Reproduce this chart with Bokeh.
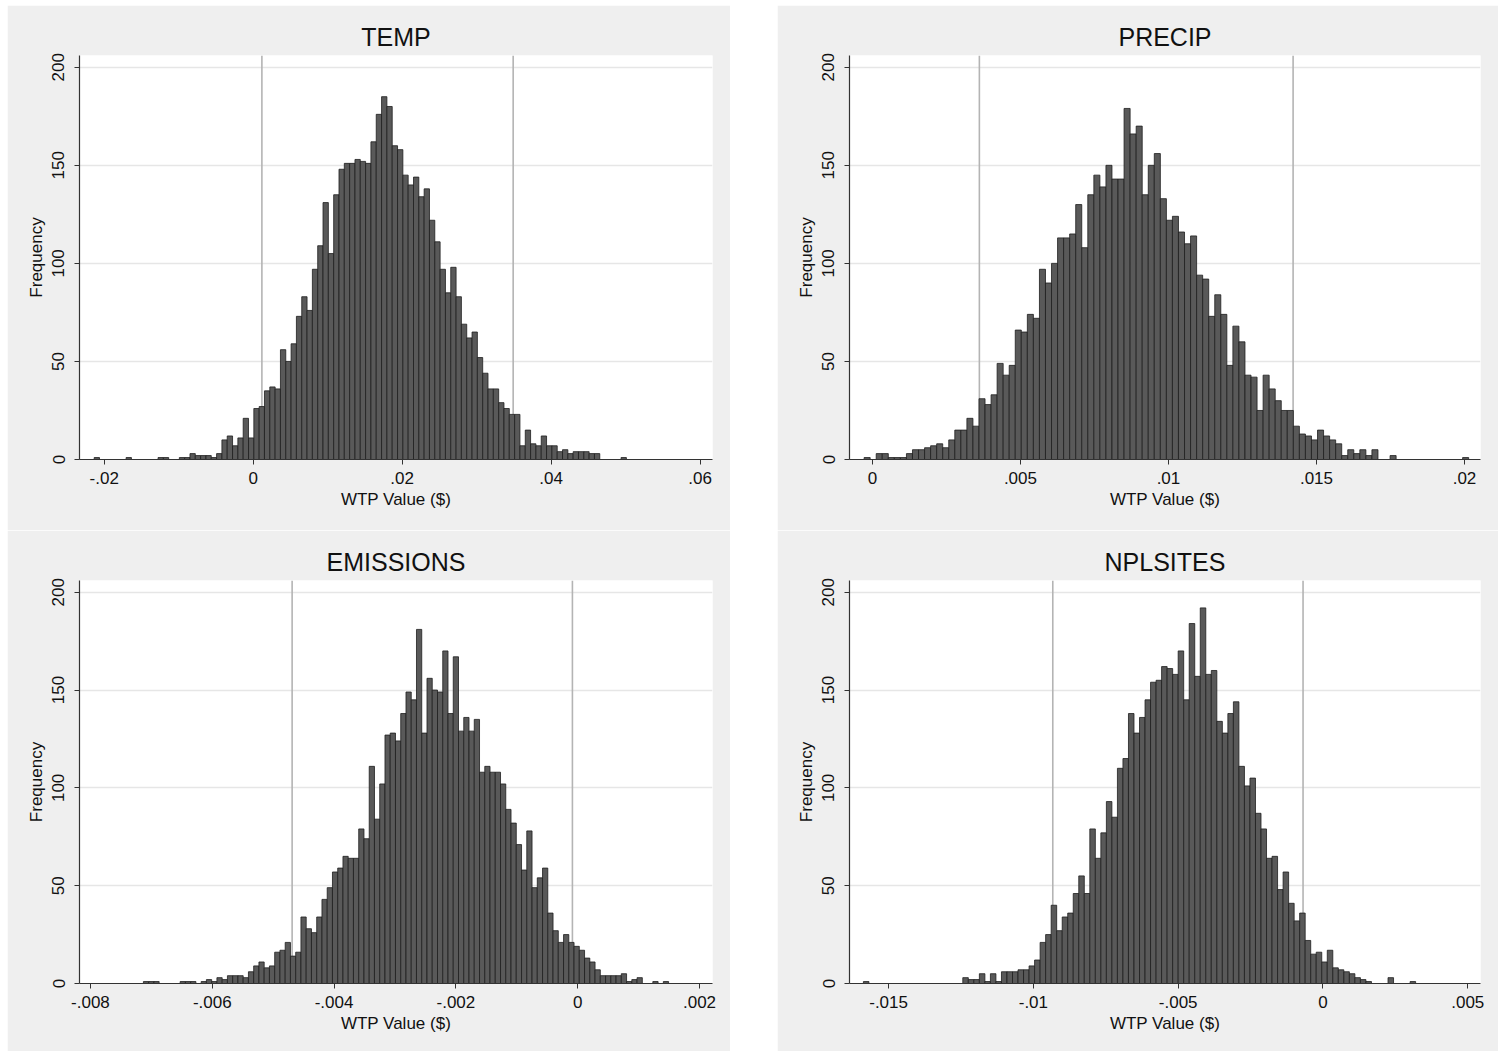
from bokeh.plotting import figure
from bokeh.layouts import column, row, Spacer
from bokeh.models import Range1d, FixedTicker, Span, ColumnDataSource
from bokeh.embed import file_html
from bokeh.resources import INLINE

FONT = "Liberation Sans"

# ---------------- data ----------------
titles = ["TEMP", "PRECIP", "EMISSIONS", "NPLSITES"]

temp_bin_start = -0.02135
temp_bin_width = 0.0007145
temp_counts = [1, 0, 0, 0, 0, 0, 1, 0, 0, 0, 0, 0, 1, 1, 0, 0, 1, 1, 3, 2,
               2, 2, 1, 3, 10, 12, 7, 11, 21, 11, 26, 27, 35, 37, 36, 56, 50, 59, 73, 83,
               76, 97, 109, 131, 105, 135, 148, 151, 151, 153, 152, 151, 162, 176, 185, 180, 160, 158, 145, 140,
               144, 134, 138, 122, 111, 97, 85, 98, 83, 69, 62, 65, 52, 44, 36, 36, 29, 26, 23, 23,
               7, 15, 8, 7, 12, 7, 7, 4, 5, 3, 4, 4, 4, 3, 3, 0, 0, 0, 0, 1]
temp_ticks = [-0.02, 0, 0.02, 0.04, 0.06]
temp_tick_labels = ["-.02", "0", ".02", ".04", ".06"]
temp_lines = [0.001166, 0.0349]

precip_bin_start = -0.00028
precip_bin_width = 0.0002042
precip_counts = [1, 0, 3, 3, 1, 1, 1, 3, 5, 5, 6, 7, 8, 6, 10, 15, 15, 21, 17, 31,
                 28, 33, 49, 43, 48, 66, 65, 74, 72, 97, 90, 100, 113, 113, 115, 130, 108, 135, 145, 139,
                 150, 143, 143, 179, 166, 170, 135, 150, 156, 133, 122, 124, 116, 110, 114, 94, 92, 73, 84, 74,
                 48, 68, 60, 43, 42, 25, 43, 36, 30, 25, 25, 17, 13, 12, 10, 15, 12, 10, 8, 2,
                 5, 3, 5, 2, 5, 0, 0, 2, 0, 0, 0, 0, 0, 0, 0, 0, 0, 0, 0, 1]
precip_ticks = [0, 0.005, 0.01, 0.015, 0.02]
precip_tick_labels = ["0", ".005", ".01", ".015", ".02"]
precip_lines = [0.003613, 0.01421]

emis_bin_start = -0.007131
emis_bin_width = 0.00008623
emis_counts = [1, 1, 1, 0, 0, 0, 0, 1, 1, 1, 0, 1, 2, 1, 3, 2, 4, 4, 4, 3,
               6, 9, 11, 8, 9, 16, 17, 21, 14, 16, 34, 28, 26, 34, 43, 49, 57, 59, 65, 64,
               64, 79, 74, 111, 84, 102, 127, 128, 124, 138, 149, 145, 181, 128, 156, 150, 149, 170, 138, 167,
               129, 136, 129, 135, 108, 111, 108, 108, 102, 89, 82, 71, 58, 78, 49, 54, 59, 36, 27, 21,
               25, 21, 19, 17, 13, 11, 7, 4, 4, 4, 4, 5, 1, 2, 3, 0, 0, 1, 0, 1]
emis_ticks = [-0.008, -0.006, -0.004, -0.002, 0, 0.002]
emis_tick_labels = ["-.008", "-.006", "-.004", "-.002", "0", ".002"]
emis_lines = [-0.004689, -0.0000869]

npl_bin_start = -0.01587
npl_bin_width = 0.0001907
npl_counts = [1, 0, 0, 0, 0, 0, 0, 0, 0, 0, 0, 0, 0, 0, 0, 0, 0, 0, 3, 2,
              2, 5, 1, 5, 1, 6, 6, 6, 7, 7, 9, 12, 21, 25, 40, 27, 34, 36, 46, 55,
              46, 79, 64, 77, 93, 85, 110, 115, 138, 128, 136, 145, 154, 155, 162, 161, 158, 170, 145, 184,
              157, 192, 158, 160, 134, 128, 138, 144, 111, 101, 105, 87, 79, 64, 65, 48, 57, 41, 32, 36,
              22, 15, 16, 11, 17, 8, 7, 6, 5, 3, 2, 1, 0, 0, 0, 3, 0, 0, 0, 1]
npl_ticks = [-0.015, -0.01, -0.005, 0, 0.005]
npl_tick_labels = ["-.015", "-.01", "-.005", "0", ".005"]
npl_lines = [-0.00933, -0.000688]

y_ticks = [0, 50, 100, 150, 200]


def make_panel(title, start, width, counts, ticks, tick_labels, lines, xr, W, H, bottom):
    left, right, top = [], [], []
    for i, c in enumerate(counts):
        if c > 0:
            left.append(start + i * width)
            right.append(start + (i + 1) * width)
            top.append(c)
    src = ColumnDataSource(dict(left=left, right=right, top=top, bottom=[0] * len(top)))
    p = figure(width=W, height=H, output_backend="svg", toolbar_location=None,
               x_range=Range1d(*xr), y_range=Range1d(0, 206),
               min_border_left=72, min_border_right=18,
               min_border_top=50, min_border_bottom=bottom)
    p.title.text = title
    p.title.align = "center"
    p.title.text_font = FONT
    p.title.text_font_size = "25px"
    p.title.text_font_style = "normal"
    p.title.text_color = "#111111"
    p.border_fill_color = "#efefef"
    p.background_fill_color = "white"
    p.outline_line_color = None

    for v in lines:
        p.add_layout(Span(location=v, dimension="height", line_color="#b4b4b4",
                          line_width=1.6, level="underlay"))

    p.quad(left="left", right="right", top="top", bottom="bottom", source=src,
           fill_color="#595959", line_color="#1e1e1e", line_width=0.8)

    p.xgrid.grid_line_color = None
    p.ygrid.ticker = FixedTicker(ticks=y_ticks)
    p.ygrid.grid_line_color = "#e6e6e6"
    p.ygrid.grid_line_width = 1.5

    xa = p.xaxis[0]
    xa.ticker = FixedTicker(ticks=ticks)
    xa.major_label_overrides = {t: l for t, l in zip(ticks, tick_labels)}
    xa.axis_label = "WTP Value ($)"
    ya = p.yaxis[0]
    ya.ticker = FixedTicker(ticks=y_ticks)
    ya.axis_label = "Frequency"
    ya.major_label_orientation = "vertical"
    for ax in (xa, ya):
        ax.axis_label_text_font = FONT
        ax.axis_label_text_font_size = "17px"
        ax.axis_label_text_font_style = "normal"
        ax.axis_label_text_color = "#111111"
        ax.major_label_text_font = FONT
        ax.major_label_text_font_size = "17px"
        ax.major_label_text_color = "#111111"
        ax.axis_line_color = "#333333"
        ax.axis_line_width = 1.2
        ax.major_tick_line_color = "#333333"
        ax.major_tick_out = 5
        ax.major_tick_in = 0
        ax.minor_tick_line_color = None
    xa.major_label_standoff = 7
    xa.axis_label_standoff = 3
    ya.major_label_standoff = 10
    ya.axis_label_standoff = 4
    return p


p1 = make_panel(titles[0], temp_bin_start, temp_bin_width, temp_counts,
                temp_ticks, temp_tick_labels, temp_lines, (-0.02332, 0.06166), 723, 525, 71)
p2 = make_panel(titles[1], precip_bin_start, precip_bin_width, precip_counts,
                precip_ticks, precip_tick_labels, precip_lines, (-0.000774, 0.02054), 721, 525, 71)
p3 = make_panel(titles[2], emis_bin_start, emis_bin_width, emis_counts,
                emis_ticks, emis_tick_labels, emis_lines, (-0.00818, 0.002213), 723, 521, 68)
p4 = make_panel(titles[3], npl_bin_start, npl_bin_width, npl_counts,
                npl_ticks, npl_tick_labels, npl_lines, (-0.01635, 0.00544), 721, 521, 68)

layout = column(
    Spacer(height=5),
    row(Spacer(width=7), p1, Spacer(width=47), p2),
    row(Spacer(width=7), p3, Spacer(width=47), p4),
)

open("out.html", "w").write(file_html(layout, INLINE))
